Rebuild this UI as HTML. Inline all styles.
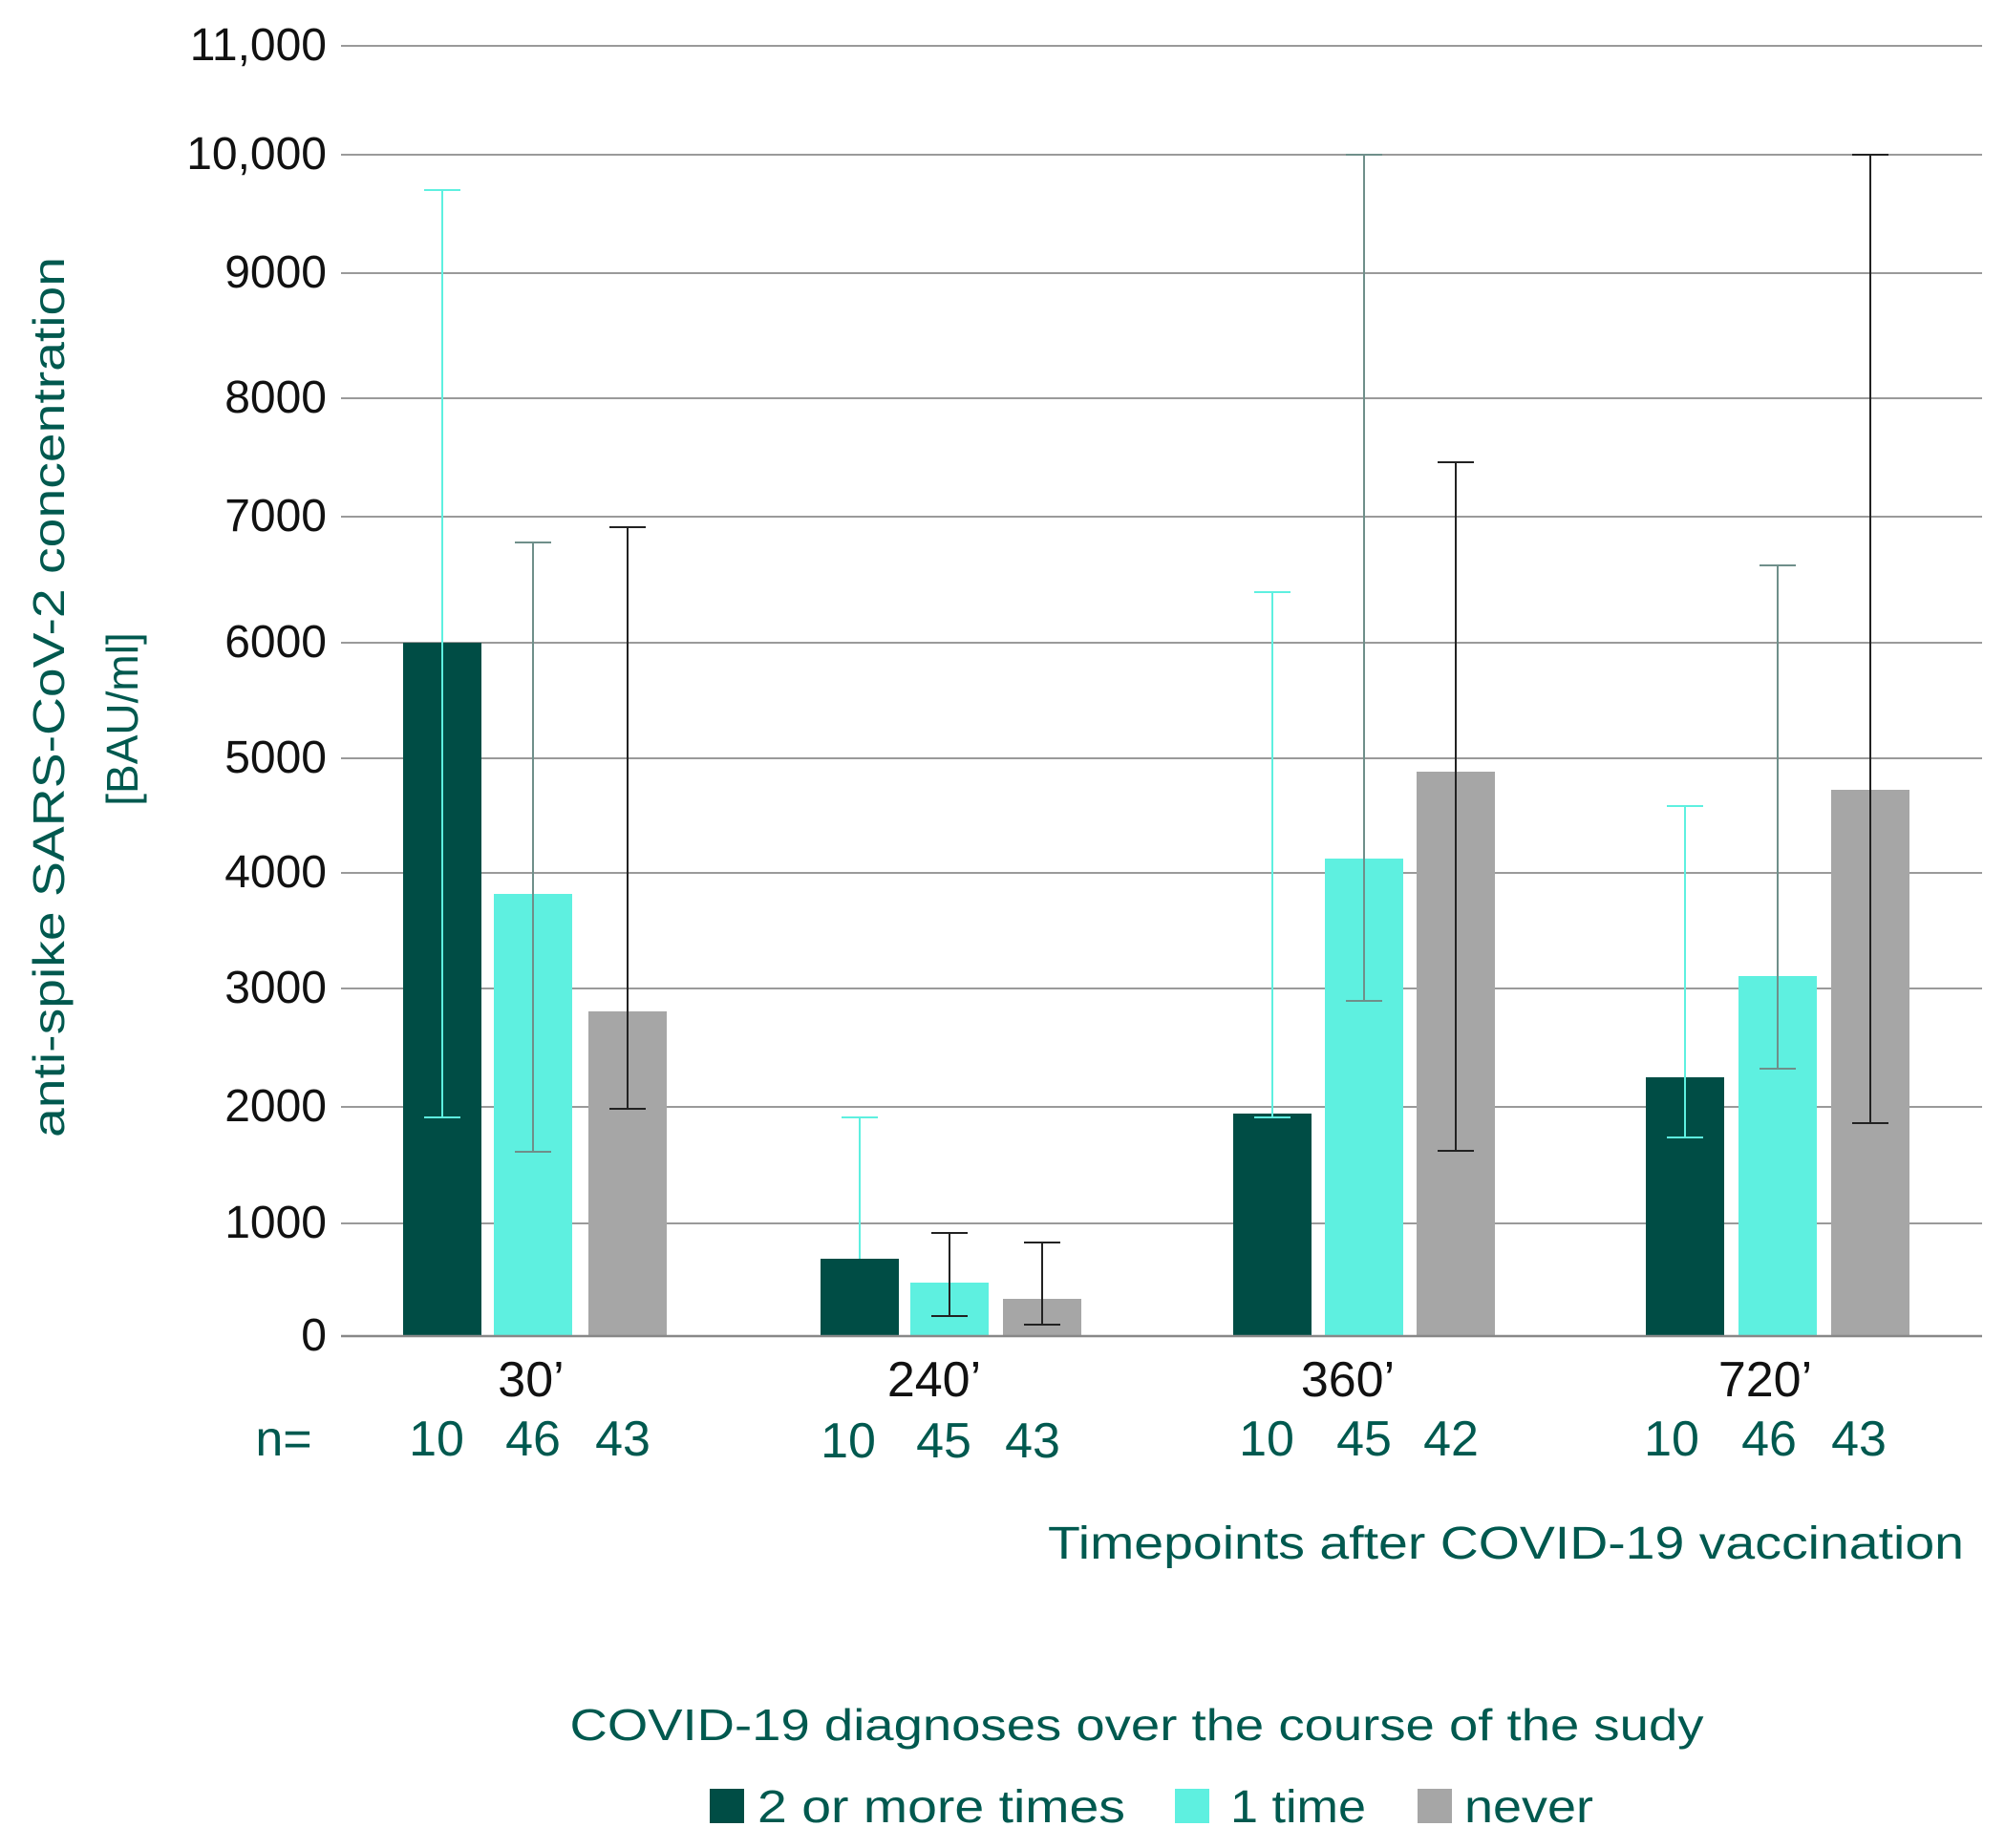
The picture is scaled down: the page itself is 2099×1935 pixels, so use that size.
<!DOCTYPE html>
<html><head><meta charset="utf-8"><style>
html,body{margin:0;padding:0;background:#fff;}
svg{display:block;font-family:"Liberation Sans",sans-serif;}
</style></head><body>
<svg width="2099" height="1935" viewBox="0 0 2099 1935" xmlns="http://www.w3.org/2000/svg">
<g stroke="#9a9a9a" stroke-width="2">
<line x1="357" x2="2075" y1="48" y2="48"/>
<line x1="357" x2="2075" y1="162" y2="162"/>
<line x1="357" x2="2075" y1="286" y2="286"/>
<line x1="357" x2="2075" y1="417" y2="417"/>
<line x1="357" x2="2075" y1="541" y2="541"/>
<line x1="357" x2="2075" y1="673" y2="673"/>
<line x1="357" x2="2075" y1="794" y2="794"/>
<line x1="357" x2="2075" y1="914" y2="914"/>
<line x1="357" x2="2075" y1="1035" y2="1035"/>
<line x1="357" x2="2075" y1="1159" y2="1159"/>
<line x1="357" x2="2075" y1="1281" y2="1281"/>
</g>
<g font-size="48" fill="#111" text-anchor="end">
<text x="342" y="63">11,000</text>
<text x="342" y="177">10,000</text>
<text x="342" y="301">9000</text>
<text x="342" y="432">8000</text>
<text x="342" y="556">7000</text>
<text x="342" y="688">6000</text>
<text x="342" y="809">5000</text>
<text x="342" y="929">4000</text>
<text x="342" y="1050">3000</text>
<text x="342" y="1174">2000</text>
<text x="342" y="1296">1000</text>
<text x="342" y="1414">0</text>
</g>
<g>
<rect x="422" y="673" width="82" height="726" fill="#004d45"/>
<rect x="517" y="936" width="82" height="463" fill="#5ef0e0"/>
<rect x="616" y="1059" width="82" height="340" fill="#a6a6a6"/>
<rect x="859" y="1318" width="82" height="81" fill="#004d45"/>
<rect x="953" y="1343" width="82" height="56" fill="#5ef0e0"/>
<rect x="1050" y="1360" width="82" height="39" fill="#a6a6a6"/>
<rect x="1291" y="1166" width="82" height="233" fill="#004d45"/>
<rect x="1387" y="899" width="82" height="500" fill="#5ef0e0"/>
<rect x="1483" y="808" width="82" height="591" fill="#a6a6a6"/>
<rect x="1723" y="1128" width="82" height="271" fill="#004d45"/>
<rect x="1820" y="1022" width="82" height="377" fill="#5ef0e0"/>
<rect x="1917" y="827" width="82" height="572" fill="#a6a6a6"/>
</g>
<line x1="357" x2="2075" y1="1399" y2="1399" stroke="#888" stroke-width="2.5"/>
<g stroke-width="2" fill="none">
<path stroke="#5ef0e0" d="M463 199V1170M444 199H482M444 1170H482"/>
<path stroke="#6f8f8a" d="M558 568V1206M539 568H577M539 1206H577"/>
<path stroke="#222" d="M657 552V1161M638 552H676M638 1161H676"/>
<path stroke="#5ef0e0" d="M900 1170V1368M881 1170H919"/>
<path stroke="#004d45" d="M900 1318V1368M881 1368H919"/>
<path stroke="#222" d="M994 1291V1378M975 1291H1013M975 1378H1013"/>
<path stroke="#222" d="M1091 1301V1387M1072 1301H1110M1072 1387H1110"/>
<path stroke="#5ef0e0" d="M1332 620V1170M1313 620H1351M1313 1170H1351"/>
<path stroke="#6f8f8a" d="M1428 162V1048M1409 162H1447M1409 1048H1447"/>
<path stroke="#222" d="M1524 484V1205M1505 484H1543M1505 1205H1543"/>
<path stroke="#5ef0e0" d="M1764 844V1191M1745 844H1783M1745 1191H1783"/>
<path stroke="#6f8f8a" d="M1861 592V1119M1842 592H1880M1842 1119H1880"/>
<path stroke="#222" d="M1958 162V1176M1939 162H1977M1939 1176H1977"/>
</g>
<g font-size="52" fill="#111" text-anchor="middle">
<text x="556" y="1462">30’</text>
<text x="978" y="1462">240’</text>
<text x="1411" y="1462">360’</text>
<text x="1848" y="1462">720’</text>
</g>
<g font-size="52" fill="#00594f" text-anchor="middle">
<text x="297" y="1524">n=</text>
<text x="457" y="1524">10</text><text x="558" y="1524">46</text><text x="652" y="1524">43</text>
<text x="888" y="1526">10</text><text x="988" y="1526">45</text><text x="1081" y="1526">43</text>
<text x="1326" y="1524">10</text><text x="1428" y="1524">45</text><text x="1519" y="1524">42</text>
<text x="1750" y="1524">10</text><text x="1852" y="1524">46</text><text x="1946" y="1524">43</text>
</g>
<text x="2056" y="1632" font-size="48" fill="#00594f" text-anchor="end" textLength="959" lengthAdjust="spacingAndGlyphs">Timepoints after COVID-19 vaccination</text>
<text x="1190" y="1822" font-size="46" fill="#00594f" text-anchor="middle" textLength="1187" lengthAdjust="spacingAndGlyphs">COVID-19 diagnoses over the course of the sudy</text>
<g font-size="48" fill="#00594f">
<rect x="743" y="1873" width="36" height="36" fill="#004d45"/>
<text x="793" y="1908" textLength="385" lengthAdjust="spacingAndGlyphs">2 or more times</text>
<rect x="1230" y="1873" width="36" height="36" fill="#5ef0e0"/>
<text x="1288" y="1908" textLength="142" lengthAdjust="spacingAndGlyphs">1 time</text>
<rect x="1484" y="1873" width="36" height="36" fill="#a6a6a6"/>
<text x="1533" y="1908" textLength="135" lengthAdjust="spacingAndGlyphs">never</text>
</g>
<g font-size="46" fill="#00594f" text-anchor="middle">
<text transform="translate(67,730) rotate(-90)" textLength="922" lengthAdjust="spacingAndGlyphs">anti-spike SARS-CoV-2 concentration</text>
<text transform="translate(144,753) rotate(-90)">[BAU/ml]</text>
</g>
</svg>
</body></html>
